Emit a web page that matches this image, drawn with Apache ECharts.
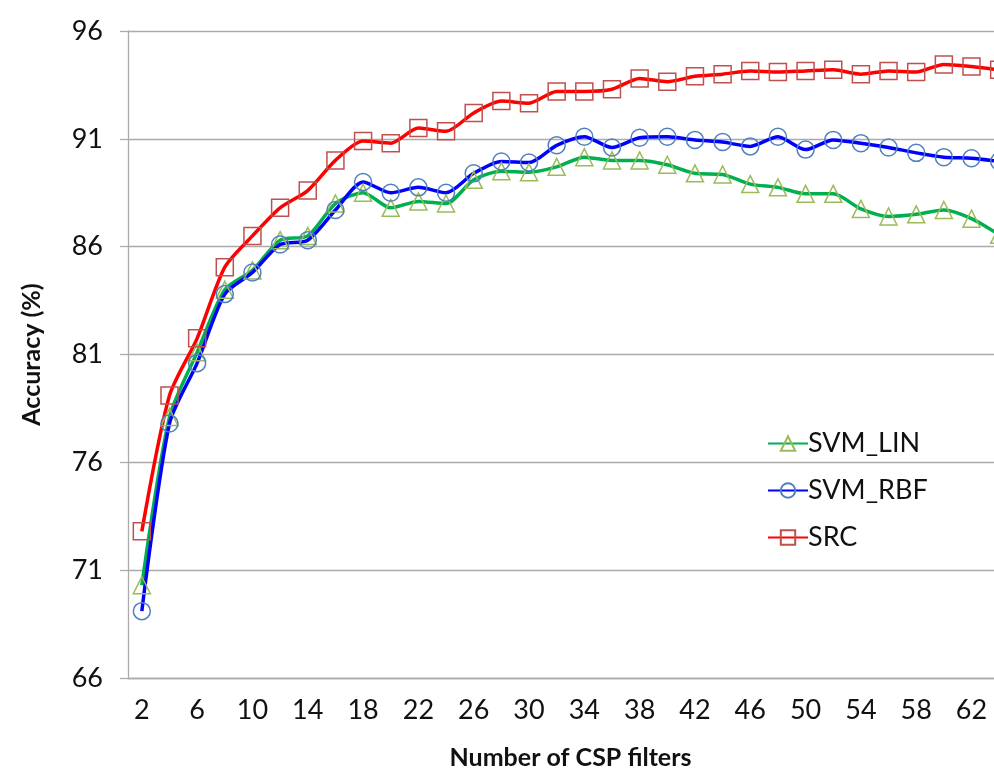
<!DOCTYPE html>
<html>
<head>
<meta charset="utf-8">
<script src="https://cdn.jsdelivr.net/npm/echarts@6/dist/echarts.min.js"></script>
<style>
  html, body { margin: 0; padding: 0; background: #fff; }
  #chart { width: 994px; height: 768px; }
</style>
</head>
<body>
<div id="chart"></div>
<script>
// Accuracy vs number of CSP filters
const filters = ['2', '4', '6', '8', '10', '12', '14', '16', '18', '20', '22', '24', '26', '28', '30', '32',
                 '34', '36', '38', '40', '42', '44', '46', '48', '50', '52', '54', '56', '58', '60', '62', '64'];

const svmLin = [70.3, 78.1, 81.1, 84.0, 84.9, 86.3, 86.5, 88.0, 88.5, 87.8, 88.1, 88.0, 89.1, 89.5, 89.45, 89.7,
                90.15, 90.0, 90.0, 89.8, 89.4, 89.35, 88.9, 88.75, 88.45, 88.45, 87.75, 87.4, 87.5, 87.7, 87.3, 86.55];

const svmRbf = [69.1, 77.8, 80.6, 83.8, 84.8, 86.1, 86.3, 87.7, 89.0, 88.5, 88.75, 88.5, 89.4, 89.95, 89.9, 90.7,
                91.1, 90.6, 91.05, 91.1, 90.95, 90.85, 90.65, 91.1, 90.5, 90.95, 90.8, 90.6, 90.35, 90.15, 90.1, 89.95];

const src = [72.8, 79.1, 81.75, 85.05, 86.5, 87.8, 88.6, 90.0, 90.9, 90.8, 91.5, 91.35, 92.2, 92.75, 92.65, 93.2,
             93.2, 93.3, 93.8, 93.65, 93.9, 94.0, 94.15, 94.1, 94.15, 94.2, 94.0, 94.15, 94.1, 94.45, 94.35, 94.2];

const chart = echarts.init(document.getElementById('chart'));

const gridColor = '#ababab';
const fontMain = 'Lato, "Open Sans", sans-serif';

function makeSeries(name, data, lineColor, symbol, markColor) {
    return {
        name: name,
        type: 'line',
        data: data,
        smooth: 0.25,
        symbol: symbol,
        symbolSize: 17,
        lineStyle: { color: lineColor, width: 3.5 },
        itemStyle: { color: 'rgba(255,255,255,0)', borderColor: markColor, borderWidth: 1.5 },
        emphasis: { disabled: true }
    };
}

const option = {
    animation: false,
    backgroundColor: '#ffffff',
    // plot runs past the right edge of the canvas, like the cropped original
    grid: {
        left: 128,
        top: 31,
        bottom: 90,
        width: 885,
        containLabel: false,
        outerBoundsMode: 'none'
    },
    legend: {
        orient: 'vertical',
        left: 762,
        top: 425,
        itemWidth: 40,
        itemHeight: 18,
        itemGap: 20,
        textStyle: { fontFamily: fontMain, fontSize: 27, color: '#111', padding: [0, 0, 0, -5] },
        data: ['SVM_LIN', 'SVM_RBF', 'SRC']
    },
    xAxis: {
        type: 'category',
        data: filters,
        boundaryGap: true,
        name: 'Number of CSP filters',
        nameLocation: 'middle',
        nameGap: 67,
        nameTextStyle: { fontFamily: fontMain, fontSize: 25, fontWeight: 'bold', color: '#111' },
        axisLine: { lineStyle: { color: gridColor, width: 1.3 } },
        axisTick: { show: false },
        axisLabel: {
            interval: 1,
            fontFamily: fontMain,
            fontSize: 27,
            color: '#111',
            margin: 19
        },
        splitLine: { show: false }
    },
    yAxis: {
        type: 'value',
        min: 66,
        max: 96,
        interval: 5,
        name: 'Accuracy (%)',
        nameLocation: 'middle',
        nameGap: 84,
        nameTextStyle: { fontFamily: fontMain, fontSize: 25, fontWeight: 'bold', color: '#111' },
        axisLine: { show: true, lineStyle: { color: gridColor, width: 1.3 } },
        axisTick: { show: true, inside: false, length: 8, lineStyle: { color: gridColor, width: 1.3 } },
        axisLabel: {
            fontFamily: fontMain,
            fontSize: 27,
            color: '#111',
            margin: 25
        },
        splitLine: { show: true, lineStyle: { color: gridColor, width: 1.3 } }
    },
    series: [
        makeSeries('SVM_LIN', svmLin, '#00b050', 'triangle', '#9bbb59'),
        makeSeries('SVM_RBF', svmRbf, '#0000ff', 'circle', '#4f81bd'),
        makeSeries('SRC', src, '#ff0000', 'rect', '#c0504d')
    ]
};

chart.setOption(option);
</script>
</body>
</html>
